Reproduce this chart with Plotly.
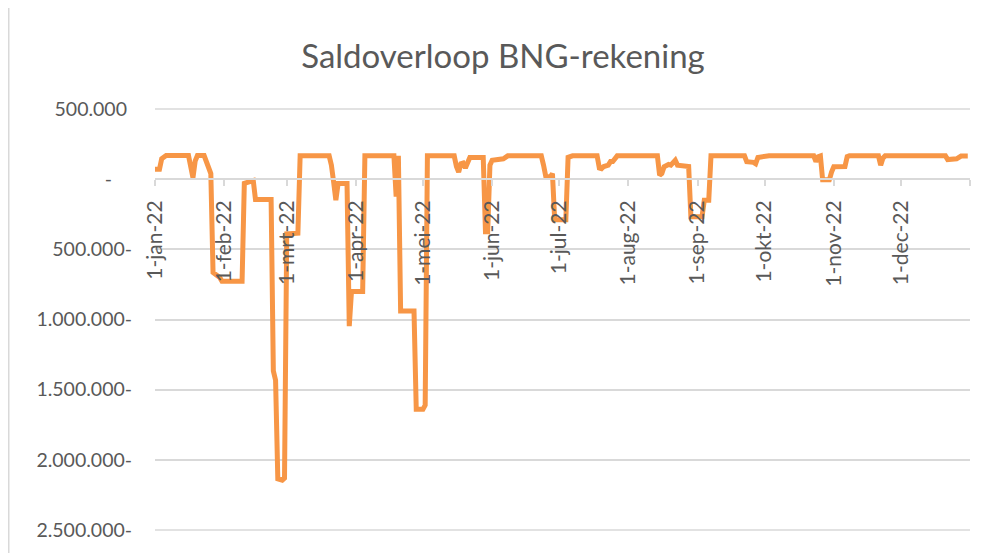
import plotly.graph_objects as go

# ---- data ----
dates = [
    "2022-01-01", "2022-01-03", "2022-01-04", "2022-01-06", "2022-01-16", "2022-01-17",
    "2022-01-18", "2022-01-19", "2022-01-20", "2022-01-23", "2022-01-24", "2022-01-25",
    "2022-01-26", "2022-01-27", "2022-01-29", "2022-01-30", "2022-01-31", "2022-02-09",
    "2022-02-10", "2022-02-11", "2022-02-13", "2022-02-14", "2022-02-15", "2022-02-22",
    "2022-02-23", "2022-02-24", "2022-02-25", "2022-02-26", "2022-02-27", "2022-02-28",
    "2022-03-01", "2022-03-06", "2022-03-07", "2022-03-20", "2022-03-21", "2022-03-22",
    "2022-03-23", "2022-03-24", "2022-03-28", "2022-03-29", "2022-03-30", "2022-04-04",
    "2022-04-05", "2022-04-18", "2022-04-19", "2022-04-20", "2022-04-21", "2022-04-27",
    "2022-04-28", "2022-05-01", "2022-05-02", "2022-05-03", "2022-05-15", "2022-05-16",
    "2022-05-17", "2022-05-18", "2022-05-19", "2022-05-20", "2022-05-21", "2022-05-22",
    "2022-05-28", "2022-05-29", "2022-05-30", "2022-05-31", "2022-06-01", "2022-06-06",
    "2022-06-08", "2022-06-23", "2022-06-24", "2022-06-25", "2022-06-27", "2022-06-28",
    "2022-06-29", "2022-07-04", "2022-07-05", "2022-07-07", "2022-07-18", "2022-07-19",
    "2022-07-20", "2022-07-21", "2022-07-23", "2022-07-24", "2022-07-25", "2022-07-26",
    "2022-07-27", "2022-08-14", "2022-08-15", "2022-08-16", "2022-08-17", "2022-08-19",
    "2022-08-20", "2022-08-22", "2022-08-23", "2022-08-28", "2022-08-29", "2022-09-03",
    "2022-09-04", "2022-09-06", "2022-09-07", "2022-09-22", "2022-09-23", "2022-09-26",
    "2022-09-27", "2022-09-28", "2022-10-03", "2022-10-23", "2022-10-24", "2022-10-25",
    "2022-10-26", "2022-10-27", "2022-10-30", "2022-10-31", "2022-11-01", "2022-11-06",
    "2022-11-07", "2022-11-08", "2022-11-21", "2022-11-22", "2022-11-23", "2022-11-24",
    "2022-12-21", "2022-12-22", "2022-12-26", "2022-12-28", "2022-12-31",
]
saldo = [
    70000, 70000, 145000, 168000, 168000, 100000,
    10000, 130000, 168000, 168000, 130000, 70000,
    40000, -665000, -685000, -700000, -728000, -728000,
    -30000, -25000, -8000, -10000, -145000, -145000,
    -1366000, -1433000, -2135000, -2145000, -2145000, -2130000,
    -390000, -385000, 166000, 166000, 100000, -20000,
    -150000, -30000, -30000, -1047000, -800000, -800000,
    166000, 166000, -125000, 166000, -940000, -940000,
    -1640000, -1640000, -1610000, 166000, 166000, 90000,
    50000, 110000, 115000, 80000, 130000, 155000,
    155000, -375000, -375000, 100000, 135000, 145000,
    166000, 166000, 100000, 20000, 15000, 40000,
    -290000, -290000, 155000, 166000, 166000, 80000,
    75000, 90000, 100000, 125000, 125000, 150000,
    166000, 166000, 28000, 40000, 88000, 105000,
    100000, 135000, 100000, 90000, -267000, -267000,
    -150000, -150000, 166000, 166000, 125000, 120000,
    110000, 155000, 166000, 166000, 125000, 160000,
    166000, -5000, -5000, 50000, 88000, 90000,
    160000, 166000, 166000, 100000, 150000, 166000,
    166000, 140000, 145000, 165000, 165000,
]

month_ticks = [
    "2022-01-01", "2022-02-01", "2022-03-01", "2022-04-01", "2022-05-01", "2022-06-01",
    "2022-07-01", "2022-08-01", "2022-09-01", "2022-10-01", "2022-11-01", "2022-12-01",
    "2023-01-01",
]
month_labels = [
    "1-jan-22", "1-feb-22", "1-mrt-22", "1-apr-22", "1-mei-22", "1-jun-22",
    "1-jul-22", "1-aug-22", "1-sep-22", "1-okt-22", "1-nov-22", "1-dec-22", "",
]
y_ticks = [500000, 0, -500000, -1000000, -1500000, -2000000, -2500000]
y_labels = [
    "500.000\u00a0", "-\u00a0\u00a0\u00a0\u00a0", "500.000-", "1.000.000-",
    "1.500.000-", "2.000.000-", "2.500.000-",
]

TXT = "#595959"
GRID = "#D9D9D9"
FONT = "Lato, Open Sans, sans-serif"

fig = go.Figure()
fig.add_trace(go.Scatter(
    x=dates, y=saldo, mode="lines",
    line=dict(color="#F79646", width=5, shape="linear"),
    hoverinfo="x+y", showlegend=False,
))

# the page body adds an 8px offset, so the figure is sized/positioned to compensate
OFF = 8
W, H = 982 - OFF, 553 - OFF
ml, mr, mt, mb = 155 - OFF, 12, 109 - OFF, 21
plot_w = W - ml - mr

edge_grid = [
    dict(type="line", xref="paper", yref="paper", x0=0, x1=1, y0=yy, y1=yy,
         line=dict(color=GRID, width=1.5), layer="below")
    for yy in (0, 1)
]

fig.update_layout(
    width=W, height=H,
    margin=dict(l=ml, r=mr, t=mt, b=mb, pad=0),
    paper_bgcolor="white", plot_bgcolor="white",
    font=dict(family=FONT, color=TXT),
    title=dict(
        text="Saldoverloop BNG-rekening",
        font=dict(family=FONT, size=33, color=TXT),
        xref="container", yref="container",
        x=(503 - OFF) / W, y=1 - (56 - OFF) / H, xanchor="center", yanchor="middle",
    ),
    xaxis=dict(
        type="date",
        range=["2022-01-01", "2023-01-01"],
        tickmode="array", tickvals=month_ticks, ticktext=month_labels,
        tickangle=-90,
        tickfont=dict(family=FONT, size=21, color=TXT),
        ticks="outside", ticklen=6, tickcolor=GRID, tickwidth=1.5,
        ticklabelstandoff=6,
        showline=True, linecolor=GRID, linewidth=1.5,
        showgrid=False, zeroline=False,
        anchor="free", position=2.5 / 3,
    ),
    yaxis=dict(
        range=[-2500000, 500000],
        tickmode="array", tickvals=y_ticks, ticktext=y_labels,
        tickfont=dict(family=FONT, size=19.5, color=TXT),
        ticks="", ticklabelstandoff=22,
        showgrid=True, gridcolor=GRID, gridwidth=1.5,
        zeroline=False, showline=False,
        domain=[0, 1],
    ),
    shapes=edge_grid + [dict(
        type="line", xref="paper", yref="paper",
        x0=(0.75 - ml) / plot_w, x1=(0.75 - ml) / plot_w, y0=-1, y1=2,
        line=dict(color=GRID, width=1.5),
    )],
)

fig.write_html("out.html")
